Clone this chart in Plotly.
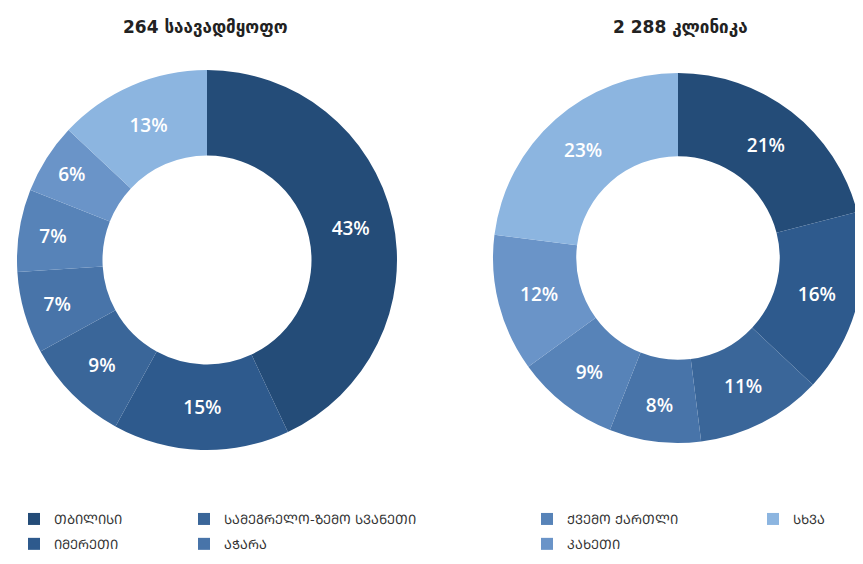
import plotly.graph_objects as go

# ---------------- data ----------------
regions_mkhedruli = [
    "თბილისი",
    "იმერეთი",
    "სამეგრელო-ზემო სვანეთი",
    "აჭარა",
    "ქვემო ქართლი",
    "კახეთი",
    "სხვა",
]
hospitals_pct = [43, 15, 9, 7, 7, 6, 13]
clinics_pct = [21, 16, 11, 8, 9, 12, 23]
titles = ["264 საავადმყოფო", "2 288 კლინიკა"]
colors = ["#244c78", "#2e5a8d", "#3a6699", "#4874a9", "#5783b8", "#6a94c8", "#8cb5e0"]
legend_columns = [[0, 1], [2, 3], [4, 5], [6]]


def to_mtavruli(s):
    return "".join(chr(ord(c) - 0x10D0 + 0x1C90) if 0x10D0 <= ord(c) <= 0x10FA else c for c in s)


regions = [to_mtavruli(r) for r in regions_mkhedruli]

# page body has an 8px margin; work in screen pixels and convert
OFF = 8
W, H = 863 - OFF, 564 - OFF


def px(X):
    return (X - OFF) / W


def py(Y):
    return 1 - (Y - OFF) / H


fig = go.Figure()

pct_font = dict(family="Open Sans, DejaVu Sans", size=19, color="white", weight=600)

fig.add_trace(go.Pie(
    labels=regions, values=hospitals_pct, sort=False, direction="clockwise", rotation=0,
    hole=0.55, marker=dict(colors=colors, line=dict(width=0)),
    texttemplate="%{value}%", textposition="inside", insidetextorientation="horizontal",
    textfont=pct_font, showlegend=False, hoverinfo="label+value",
    domain=dict(x=[px(17), px(397)], y=[py(450), py(70)]),
))
fig.add_trace(go.Pie(
    labels=regions, values=clinics_pct, sort=False, direction="clockwise", rotation=0,
    hole=0.55, marker=dict(colors=colors, line=dict(width=0)),
    texttemplate="%{value}%", textposition="inside", insidetextorientation="horizontal",
    textfont=pct_font, showlegend=False, hoverinfo="label+value",
    domain=dict(x=[px(493), 1.0], y=[py(448), py(68)]),
))

# legend entries (dummy traces), one legend per column
legend_x = [14, 184, 527, 753]
for col, idxs in enumerate(legend_columns):
    lname = "legend" if col == 0 else f"legend{col + 1}"
    for i in idxs:
        fig.add_trace(go.Scatter(
            x=[None], y=[None], mode="markers", name=regions[i],
            marker=dict(symbol="square", size=10, color=colors[i]),
            legend=lname, legendgroup=regions[i], showlegend=True, hoverinfo="skip",
        ))

legend_common = dict(
    orientation="v", xanchor="left", yanchor="top", y=py(504),
    font=dict(family="DejaVu Sans", size=13, color="#333333"),
    bgcolor="rgba(0,0,0,0)", tracegroupgap=5, itemsizing="constant",
)
layout_legends = {}
for col in range(len(legend_columns)):
    lname = "legend" if col == 0 else f"legend{col + 1}"
    layout_legends[lname] = dict(legend_common, x=px(legend_x[col]))

title_font = dict(family="DejaVu Sans", size=17, color="#222222", weight="bold")
annotations = [
    dict(text=titles[0], x=px(205), y=py(27), xref="paper", yref="paper", showarrow=False,
         xanchor="center", yanchor="middle", font=title_font),
    dict(text=titles[1], x=px(680), y=py(27), xref="paper", yref="paper", showarrow=False,
         xanchor="center", yanchor="middle", font=title_font),
]

fig.update_layout(
    width=W, height=H, margin=dict(l=0, r=0, t=0, b=0),
    paper_bgcolor="white", plot_bgcolor="white",
    xaxis=dict(visible=False), yaxis=dict(visible=False),
    annotations=annotations, **layout_legends,
)

fig.write_html("out.html")
